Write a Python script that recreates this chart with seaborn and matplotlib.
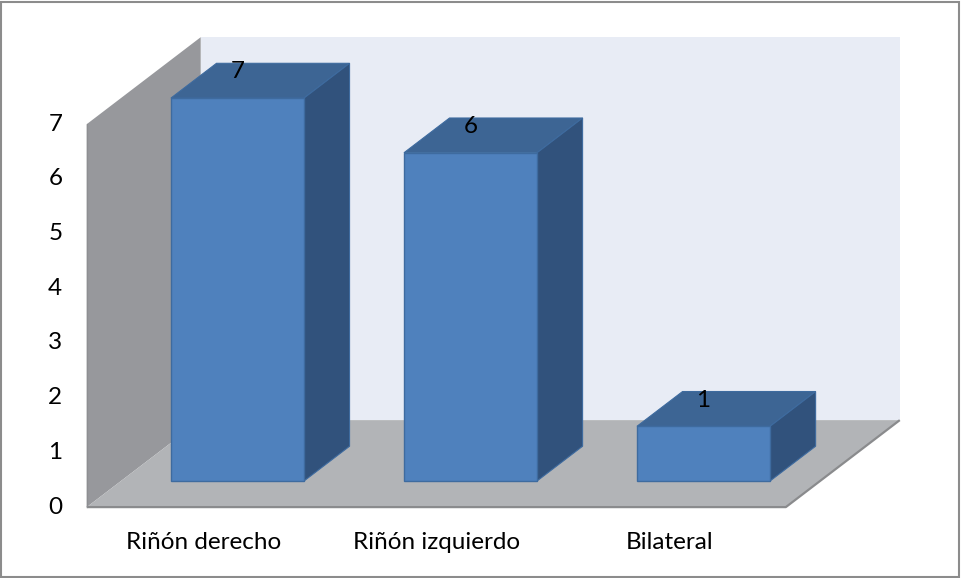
import matplotlib
matplotlib.use("Agg")
import matplotlib.pyplot as plt
from matplotlib.patches import Polygon, Rectangle
import seaborn as sns
import pandas as pd

# Data
categories = ["Riñón derecho", "Riñón izquierdo", "Bilateral"]
values = [7, 6, 1]
y_ticks = [0, 1, 2, 3, 4, 5, 6, 7]

# Colours
FRONT = "#4F81BD"
TOP = "#3D6594"
SIDE = "#31527C"
BAR_EDGE = "#3E6B9F"
BACK_WALL = "#E8ECF5"
SIDE_WALL = "#97989C"
FLOOR = "#B2B4B7"
FLOOR_EDGE = "#8A8B8D"
FS = 17.5

sns.set_theme(style="white")
plt.rcParams["font.family"] = ["Lato", "DejaVu Sans"]

fig = plt.figure(figsize=(9.61, 5.78), dpi=100)
ax = fig.add_axes([0, 0, 1, 1])

df = pd.DataFrame({"cat": categories, "val": values})

# Oblique projection: one unit of depth moves (DX, DY) in data coords
DX, DY = 0.489, 1.59
BAR_W = 0.571
d_front, d_bar, d_back = -0.3, 0.4, 0.7
x_lo, x_hi = -0.5, len(categories) - 0.5
y_top = max(y_ticks)

fx, fy = d_front * DX, d_front * DY
bx, by = d_back * DX, d_back * DY
ox, oy = d_bar * DX, d_bar * DY

# Walls and floor
ax.add_patch(Polygon([(x_lo + bx, by), (x_hi + bx, by), (x_hi + bx, y_top + by),
                      (x_lo + bx, y_top + by)], closed=True, facecolor=BACK_WALL,
                     edgecolor="none", zorder=1))
ax.add_patch(Polygon([(x_lo + fx, fy), (x_lo + fx, y_top + fy), (x_lo + bx, y_top + by),
                      (x_lo + bx, by)], closed=True, facecolor=SIDE_WALL,
                     edgecolor="none", zorder=2))
ax.add_patch(Polygon([(x_lo + fx, fy), (x_hi + fx, fy), (x_hi + bx, by), (x_lo + bx, by)],
                     closed=True, facecolor=FLOOR, edgecolor="none", zorder=2))
ax.plot([x_lo + fx, x_hi + fx, x_hi + bx], [fy, fy, by], color=FLOOR_EDGE, lw=1.6,
        solid_capstyle="butt", zorder=3)
ax.plot([x_lo + fx, x_lo + fx], [fy, y_top + fy], color="#8E8F92", lw=1.0, zorder=3)

# Front faces via seaborn
sns.barplot(data=df, x="cat", y="val", color=FRONT, width=BAR_W, saturation=1,
            edgecolor=BAR_EDGE, linewidth=1.0, ax=ax, zorder=6)

# Top and side faces of each bar
for i, v in enumerate(values):
    l, r = i - BAR_W / 2, i + BAR_W / 2
    ax.add_patch(Polygon([(l, v), (r, v), (r + ox, v + oy), (l + ox, v + oy)], closed=True,
                         facecolor=TOP, edgecolor=BAR_EDGE, lw=0.8, zorder=5))
    ax.add_patch(Polygon([(r, 0), (r + ox, oy), (r + ox, v + oy), (r, v)], closed=True,
                         facecolor=SIDE, edgecolor=BAR_EDGE, lw=0.8, zorder=5))
    ax.text(i, v + 0.48, str(v), ha="center", va="center", fontsize=FS,
            color="black", zorder=8)

# Value axis labels along the front edge of the side wall
for t in y_ticks:
    ax.text(x_lo + fx - 0.105, t + fy, str(t), ha="right", va="center",
            fontsize=FS, color="black")

# Category labels below the floor
for i, c in enumerate(categories):
    ax.text(i + fx, fy - 0.64, c, ha="center", va="center", fontsize=FS, color="black")

ax.set_xlim(-1.019, 3.105)
ax.set_ylim(-1.773, 8.793)
ax.axis("off")

# Chart area border
fig.patches.append(Rectangle((0.001, 0.002), 0.997, 0.995, transform=fig.transFigure,
                             fill=False, edgecolor="#8C8C8C", lw=1.5))

fig.savefig("out.png", dpi=100)
